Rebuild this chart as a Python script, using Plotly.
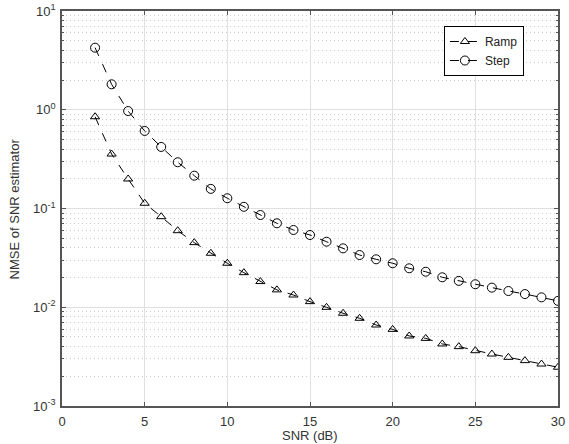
import plotly.graph_objects as go

snr_db = list(range(2, 31))

ramp_nmse = [0.85, 0.356, 0.199, 0.113, 0.0826, 0.0596, 0.0451, 0.0352, 0.0279, 0.0224,
             0.0182, 0.0150, 0.0133, 0.0114, 0.00998, 0.00869, 0.00773, 0.00661, 0.00597,
             0.00512, 0.00484, 0.00425, 0.00399, 0.00363, 0.00336, 0.00311, 0.00288,
             0.00266, 0.00247]

step_nmse = [4.25, 1.81, 0.97, 0.61, 0.42, 0.294, 0.215, 0.158, 0.127, 0.104,
             0.0859, 0.0708, 0.0606, 0.0539, 0.0461, 0.0395, 0.0338, 0.0306, 0.0279,
             0.0248, 0.0229, 0.0201, 0.0185, 0.0171, 0.0158, 0.0146, 0.0136, 0.0126,
             0.0116]

x_ticks = [0, 5, 10, 15, 20, 25, 30]
y_tickvals = [1e-3, 1e-2, 1e-1, 1e0, 1e1]
y_ticktext = ["10<sup>-3</sup>", "10<sup>-2</sup>", "10<sup>-1</sup>", "10<sup>0</sup>", "10<sup>1</sup>"]

fig = go.Figure()
fig.add_trace(go.Scatter(
    x=snr_db, y=ramp_nmse, name="Ramp", mode="lines+markers",
    line=dict(color="black", width=1, dash="dash"),
    marker=dict(symbol="triangle-up-open", size=8, color="black", line=dict(width=1)),
))
fig.add_trace(go.Scatter(
    x=snr_db, y=step_nmse, name="Step", mode="lines+markers",
    line=dict(color="black", width=1, dash="dash"),
    marker=dict(symbol="circle-open", size=9, color="black", line=dict(width=1)),
))

axis_font = dict(family="Liberation Sans, Arial, sans-serif", size=13, color="#333333")

fig.update_layout(
    width=569, height=444,
    margin=dict(l=62, r=11, t=11, b=38),
    paper_bgcolor="white", plot_bgcolor="white",
    font=axis_font,
    showlegend=True,
    legend=dict(
        x=0.77, y=0.962, xanchor="left", yanchor="top",
        bgcolor="white", bordercolor="black", borderwidth=1,
        font=dict(family="Liberation Sans, Arial, sans-serif", size=12, color="#222222"),
        tracegroupgap=0, itemwidth=30,
    ),
    annotations=[
        dict(text="SNR (dB)", xref="paper", yref="paper", x=0.5, y=-0.075,
             xanchor="center", yanchor="middle", showarrow=False,
             font=dict(size=13, color="#333333")),
        dict(text="NMSE of SNR estimator", xref="paper", yref="paper", x=-0.095, y=0.5,
             xanchor="center", yanchor="middle", textangle=-90, showarrow=False,
             font=dict(size=13, color="#333333")),
    ],
)

fig.update_xaxes(
    range=[0, 30], tickvals=x_ticks, automargin=False,
    showline=True, linecolor="#555555", linewidth=1.5, mirror="allticks",
    ticks="inside", ticklen=4, tickcolor="#555555", ticklabelstandoff=3,
    showgrid=True, gridcolor="#e0e0e0", gridwidth=1,
    zeroline=False,
)
fig.update_yaxes(
    type="log", range=[-3, 1], automargin=False,
    tickvals=y_tickvals, ticktext=y_ticktext,
    showline=True, linecolor="#555555", linewidth=1.5, mirror="allticks",
    ticks="inside", ticklen=4, tickcolor="#555555", ticklabelstandoff=2,
    showgrid=True, gridcolor="#e0e0e0", gridwidth=1,
    zeroline=False,
    minor=dict(dtick="D1", showgrid=True, gridcolor="#cccccc", griddash="1px,3px",
               gridwidth=1, ticks="inside", ticklen=2, tickcolor="#555555"),
)

fig.write_html("out.html")
